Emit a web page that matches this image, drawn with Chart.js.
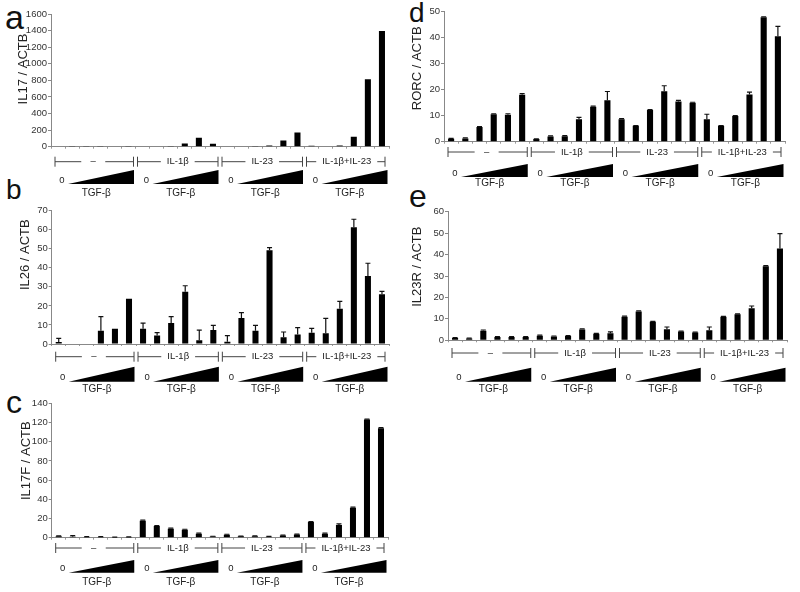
<!DOCTYPE html>
<html><head><meta charset="utf-8">
<script src="https://cdn.jsdelivr.net/npm/chart.js@4"></script>
<style>
body{margin:0;background:#fff}
#wrap{position:relative;width:800px;height:592px;overflow:hidden;font-family:"Liberation Sans",Arial,sans-serif}
canvas{position:absolute}
.lt{position:absolute;line-height:1;color:#111}
</style></head><body>
<div id="wrap">
  <div class="lt" style="left:5px;top:0px;font-size:34px">a</div>
  <div class="lt" style="left:6px;top:176px;font-size:28px">b</div>
  <div class="lt" style="left:6px;top:386px;font-size:32px">c</div>
  <div class="lt" style="left:409px;top:-1px;font-size:28px">d</div>
  <div class="lt" style="left:409px;top:180px;font-size:32px">e</div>
</div>
<script>
const FONT = '"Liberation Sans", Arial, sans-serif';
const groups = ['–', 'IL-1β', 'IL-23', 'IL-1β+IL-23'];
const doses = ['0', '1', '2', '3', '4', '5'];
const categories = groups.flatMap(g => doses.map(d => g + ' / TGF-β ' + d));

// values and upper error (SD)
const il17 = [4,3,2,7,5,3, 6,4,3,40,108,36, 4,4,3,15,76,172, 10,6,15,120,812,1395];
const il17Err = [0,0,0,0,0,0, 0,0,0,0,0,0, 0,0,0,0,0,0, 0,0,0,0,0,0];
const il26 = [1,0.3,0.3,7,8,23.8, 8,4.5,11,27.5,2,7.3, 1.2,13.7,7,49.2,3.5,5, 5.9,5.6,18.5,61.3,35.7,26.1];
const il26Err = [2,0,0,7.4,0,0, 3,1.5,3.4,3.1,5.3,2.5, 3.2,2.8,2.8,1.4,2.8,3.6, 2.3,7.9,3.9,4.2,6.7,1.5];
const il17f = [1.5,1,0.8,0.8,0.4,0.6, 17.7,12.2,9.4,8.3,4.2,1.2, 3.1,1.4,1.6,1.1,2.2,3.3, 16.3,4.2,13.3,31.2,123,114];
const il17fErr = [0.5,1.2,0.3,0.3,0.2,0.2, 0.6,0.5,0.5,0.5,0.5,0.3, 0.5,0.3,0.3,0.3,0.4,0.5, 0.6,0.5,1,0.6,0.6,0.6];
const rorc = [1.1,1.2,5.6,10.5,10.3,18, 1,2,2.1,8.6,13.4,15.9, 8.6,6.1,12.1,19.3,15.4,14.9, 8.6,6.1,9.8,18.1,47.6,40.3];
const rorcErr = [0.2,0.3,0.2,0.2,0.4,0.4, 0.1,0.2,0.2,0.7,0.2,3.3, 0.2,0.1,0.2,2.1,0.4,0.2, 1.9,0.1,0.2,0.9,0.2,3.8];
const il23r = [1.1,0.8,4.5,1.5,1.5,1.5, 2.1,1.8,2,5,3,3.3, 11,13.4,8.6,5.1,4.1,3.6, 4.7,11,12.1,14.9,34.6,42.8];
const il23rErr = [0.2,0.2,0.3,0.2,0.2,0.2, 0.3,0.2,0.2,0.3,0.2,0.6, 0.3,0.3,0.2,1.1,0.2,0.2, 1.5,0.2,0.2,1.1,0.2,7];

// box = canvas [left, top, w, h]; area = plot [left, top, right, zero line]
// off = below zero line: bracket, wedge top, wedge bottom, TGF-β text
const panels = [
  {title:'IL17 / ACTB', vals:il17, errs:il17Err, max:1600, step:200, box:[0,0,400,200], area:[51,14,389,146.7], tx:23, ty:69, off:[15,23.3,37.3,46.5]},
  {title:'IL26 / ACTB', vals:il26, errs:il26Err, max:70, step:10, box:[0,200,400,195], area:[51.7,210.7,389,344], tx:25, ty:54.7, off:[12.7,22.7,37.7,45]},
  {title:'IL17F / ACTB', vals:il17f, errs:il17fErr, max:140, step:20, box:[0,395,400,197], area:[51.7,403.3,388,537.7], tx:26.5, ty:65.7, off:[10.3,22.3,35,45]},
  {title:'RORC / ACTB', vals:rorc, errs:rorcErr, max:50, step:5, box:[400,0,400,195], area:[444,11,785,141.7], tx:17.5, ty:68.3, off:[10.3,22.3,35.3,41.6]},
  {title:'IL23R / ACTB', vals:il23r, errs:il23rErr, max:60, step:10, box:[400,195,400,205], area:[448,211.7,787,340.3], tx:17.3, ty:71.7, off:[12.7,27.4,41.4,49]}
];

function makePanel(p) {
  const cv = document.createElement('canvas');
  cv.width = p.box[2]; cv.height = p.box[3];
  cv.style.left = p.box[0] + 'px'; cv.style.top = p.box[1] + 'px';
  document.getElementById('wrap').appendChild(cv);

  const extras = {
    id: 'extras',
    afterDatasetsDraw(chart) {
      const {ctx, scales: {x, y}} = chart;
      ctx.save();
      ctx.strokeStyle = '#111'; ctx.lineWidth = 1.2;
      p.errs.forEach((e, i) => {
        if (!e) return;
        const px = x.getPixelForValue(i);
        const y0 = y.getPixelForValue(p.vals[i]), y1 = y.getPixelForValue(p.vals[i] + e);
        ctx.beginPath();
        ctx.moveTo(px, y0); ctx.lineTo(px, y1);
        ctx.moveTo(px - 2.5, y1); ctx.lineTo(px + 2.5, y1);
        ctx.stroke();
      });
      ctx.restore();
    },
    afterDraw(chart) {
      const {ctx, chartArea: a, scales: {x}} = chart;
      ctx.save();
      // y title
      ctx.translate(p.tx, p.ty); ctx.rotate(-Math.PI / 2);
      ctx.font = '13px ' + FONT; ctx.fillStyle = '#222';
      ctx.textAlign = 'center'; ctx.textBaseline = 'middle';
      ctx.fillText(p.title, 0, 0);
      ctx.restore();

      const bnd = g => x.getPixelForValue(g * 6 - 0.5);
      const yb = a.bottom + p.off[0], wt = a.bottom + p.off[1], wb = a.bottom + p.off[2];
      ctx.save();
      ctx.strokeStyle = '#444'; ctx.lineWidth = 1;
      ctx.fillStyle = '#222';
      ctx.textAlign = 'center'; ctx.textBaseline = 'middle';
      groups.forEach((g, gi) => {
        const x0 = bnd(gi) + (gi === 0 ? 4 : 2), x1 = bnd(gi + 1) - (gi === 3 ? 4 : 2);
        const cx = (bnd(gi) + bnd(gi + 1)) / 2;
        ctx.font = '9.5px ' + FONT;
        const half = Math.max(ctx.measureText(g).width / 2 + 6, 12);
        ctx.beginPath();
        ctx.moveTo(x0, yb); ctx.lineTo(cx - half, yb);
        ctx.moveTo(cx + half, yb); ctx.lineTo(x1, yb);
        ctx.moveTo(x0, yb - 5); ctx.lineTo(x0, yb + 5);
        ctx.moveTo(x1, yb - 5); ctx.lineTo(x1, yb + 5);
        ctx.stroke();
        ctx.fillText(g, cx, yb);
        // dose wedge
        const l = bnd(gi);
        ctx.fillText('0', l + 11, wb - 4);
        ctx.beginPath();
        ctx.moveTo(l + 17, wb); ctx.lineTo(bnd(gi + 1) - 1.5, wb); ctx.lineTo(bnd(gi + 1) - 1.5, wt);
        ctx.closePath(); ctx.fillStyle = '#000'; ctx.fill();
        ctx.fillStyle = '#222';
        ctx.font = '10px ' + FONT;
        ctx.fillText('TGF-β', cx + 3, a.bottom + p.off[3]);
      });
      ctx.restore();
    }
  };

  new Chart(cv, {
    type: 'bar',
    data: {labels: categories, datasets: [{data: p.vals, backgroundColor: '#000', barPercentage: 0.43, categoryPercentage: 1}]},
    options: {
      responsive: false, animation: false,
      layout: {padding: {top: p.area[1] - p.box[1], right: p.box[0] + p.box[2] - p.area[2], left: 0, bottom: 0}},
      plugins: {legend: {display: false}, tooltip: {enabled: false}},
      scales: {
        x: {
          ticks: {display: false, autoSkip: false},
          grid: {drawOnChartArea: false, tickLength: 2, color: '#999', offset: true},
          border: {color: '#888'},
          afterFit: s => { s.height = p.box[1] + p.box[3] - p.area[3]; }
        },
        y: {
          min: 0, max: p.max,
          ticks: {stepSize: p.step, font: {size: 9.5, family: FONT}, color: '#333', padding: 1, callback: v => String(v)},
          grid: {drawOnChartArea: false, tickLength: 3, color: '#888'},
          border: {color: '#888'},
          afterFit: s => { s.width = p.area[0] - p.box[0]; }
        }
      }
    },
    plugins: [extras]
  });
}

panels.forEach(makePanel);
</script>
</body></html>
